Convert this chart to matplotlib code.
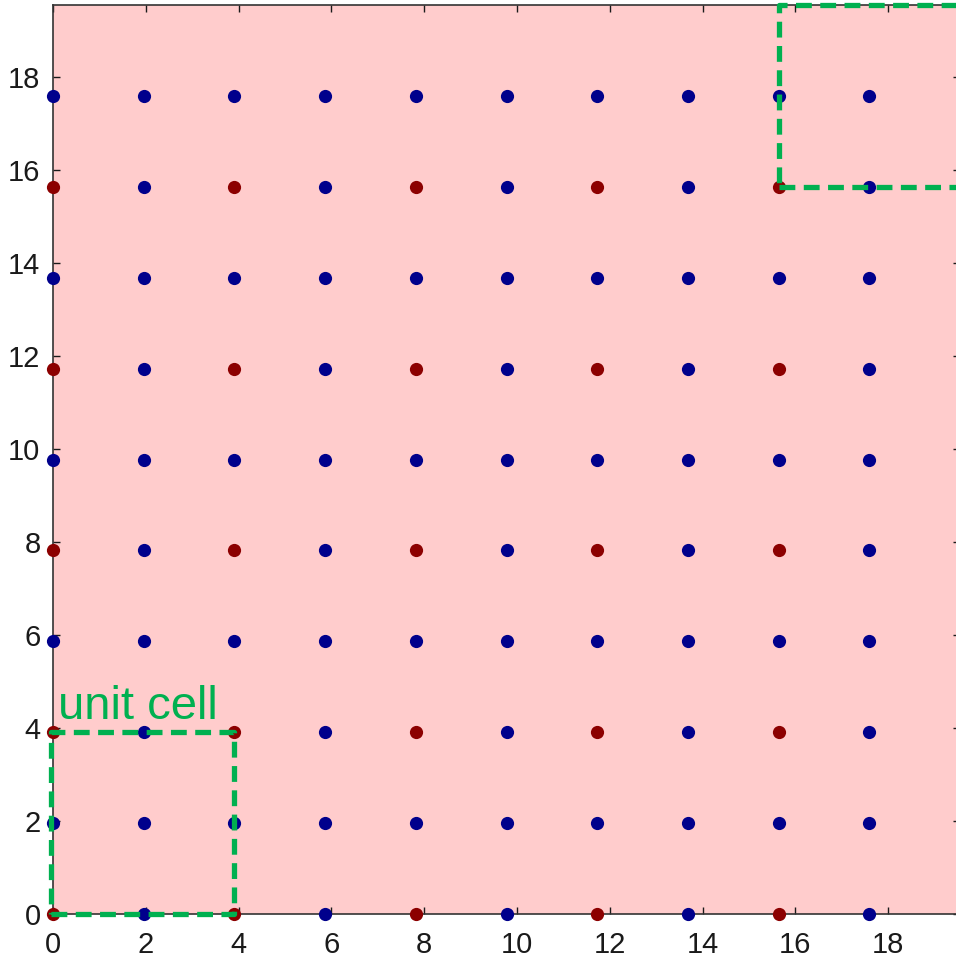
import numpy as np
import matplotlib.pyplot as plt

# lattice site positions (same along x and y)
sites = [0.0, 1.955, 3.91, 5.865, 7.82, 9.775, 11.73, 13.685, 15.64, 17.595]
# sites with even index on both axes are red, the rest are blue
red_x = [x for i, x in enumerate(sites) if i % 2 == 0 for j, y in enumerate(sites) if j % 2 == 0]
red_y = [y for i, x in enumerate(sites) if i % 2 == 0 for j, y in enumerate(sites) if j % 2 == 0]
blue_x = [x for i, x in enumerate(sites) for j, y in enumerate(sites) if i % 2 or j % 2]
blue_y = [y for i, x in enumerate(sites) for j, y in enumerate(sites) if i % 2 or j % 2]

# unit cell boxes (x0, x1, y0, y1)
cells = [(-0.05, 3.91, 0.0, 3.91), (15.64, 19.55, 15.64, 19.55)]
cell_label = 'unit cell'

xlim = (0, 19.55)
ylim = (0, 19.55)
ticks = [0, 2, 4, 6, 8, 10, 12, 14, 16, 18]

plt.rcParams['font.family'] = ['Liberation Sans', 'DejaVu Sans']

fig = plt.figure(figsize=(9.56, 9.58), dpi=100)
ax = fig.add_axes([53 / 956, 44 / 958, 907 / 956, 909 / 958])
ax.set_facecolor('#ffcccc')

ax.plot(blue_x, blue_y, 'o', color='#00008c', ms=9.5, mec='none', clip_on=False, zorder=3)
ax.plot(red_x, red_y, 'o', color='#8c0000', ms=9.5, mec='none', clip_on=False, zorder=3)

green = '#00b050'
for x0, x1, y0, y1 in cells:
    ax.plot([x0, x1, x1, x0, x0], [y0, y0, y1, y1, y0],
            color=green, lw=3.8, dashes=(3, 1.6), clip_on=False, zorder=4)

ax.text(0.1, 4.2, cell_label, color=green, fontsize=34, ha='left', va='baseline', zorder=5)

ax.set_xlim(*xlim)
ax.set_ylim(*ylim)
ax.set_xticks(ticks)
ax.set_yticks(ticks)
ax.tick_params(direction='in', length=5, width=1, top=True, right=True,
               labelsize=21, colors='#1a1a1a')
ax.tick_params(axis='x', pad=12)
ax.tick_params(axis='y', pad=9)
for sp in ax.spines.values():
    sp.set_color('#333333')
    sp.set_linewidth(1.2)

plt.savefig('out.png', dpi=100)
plt.close()
